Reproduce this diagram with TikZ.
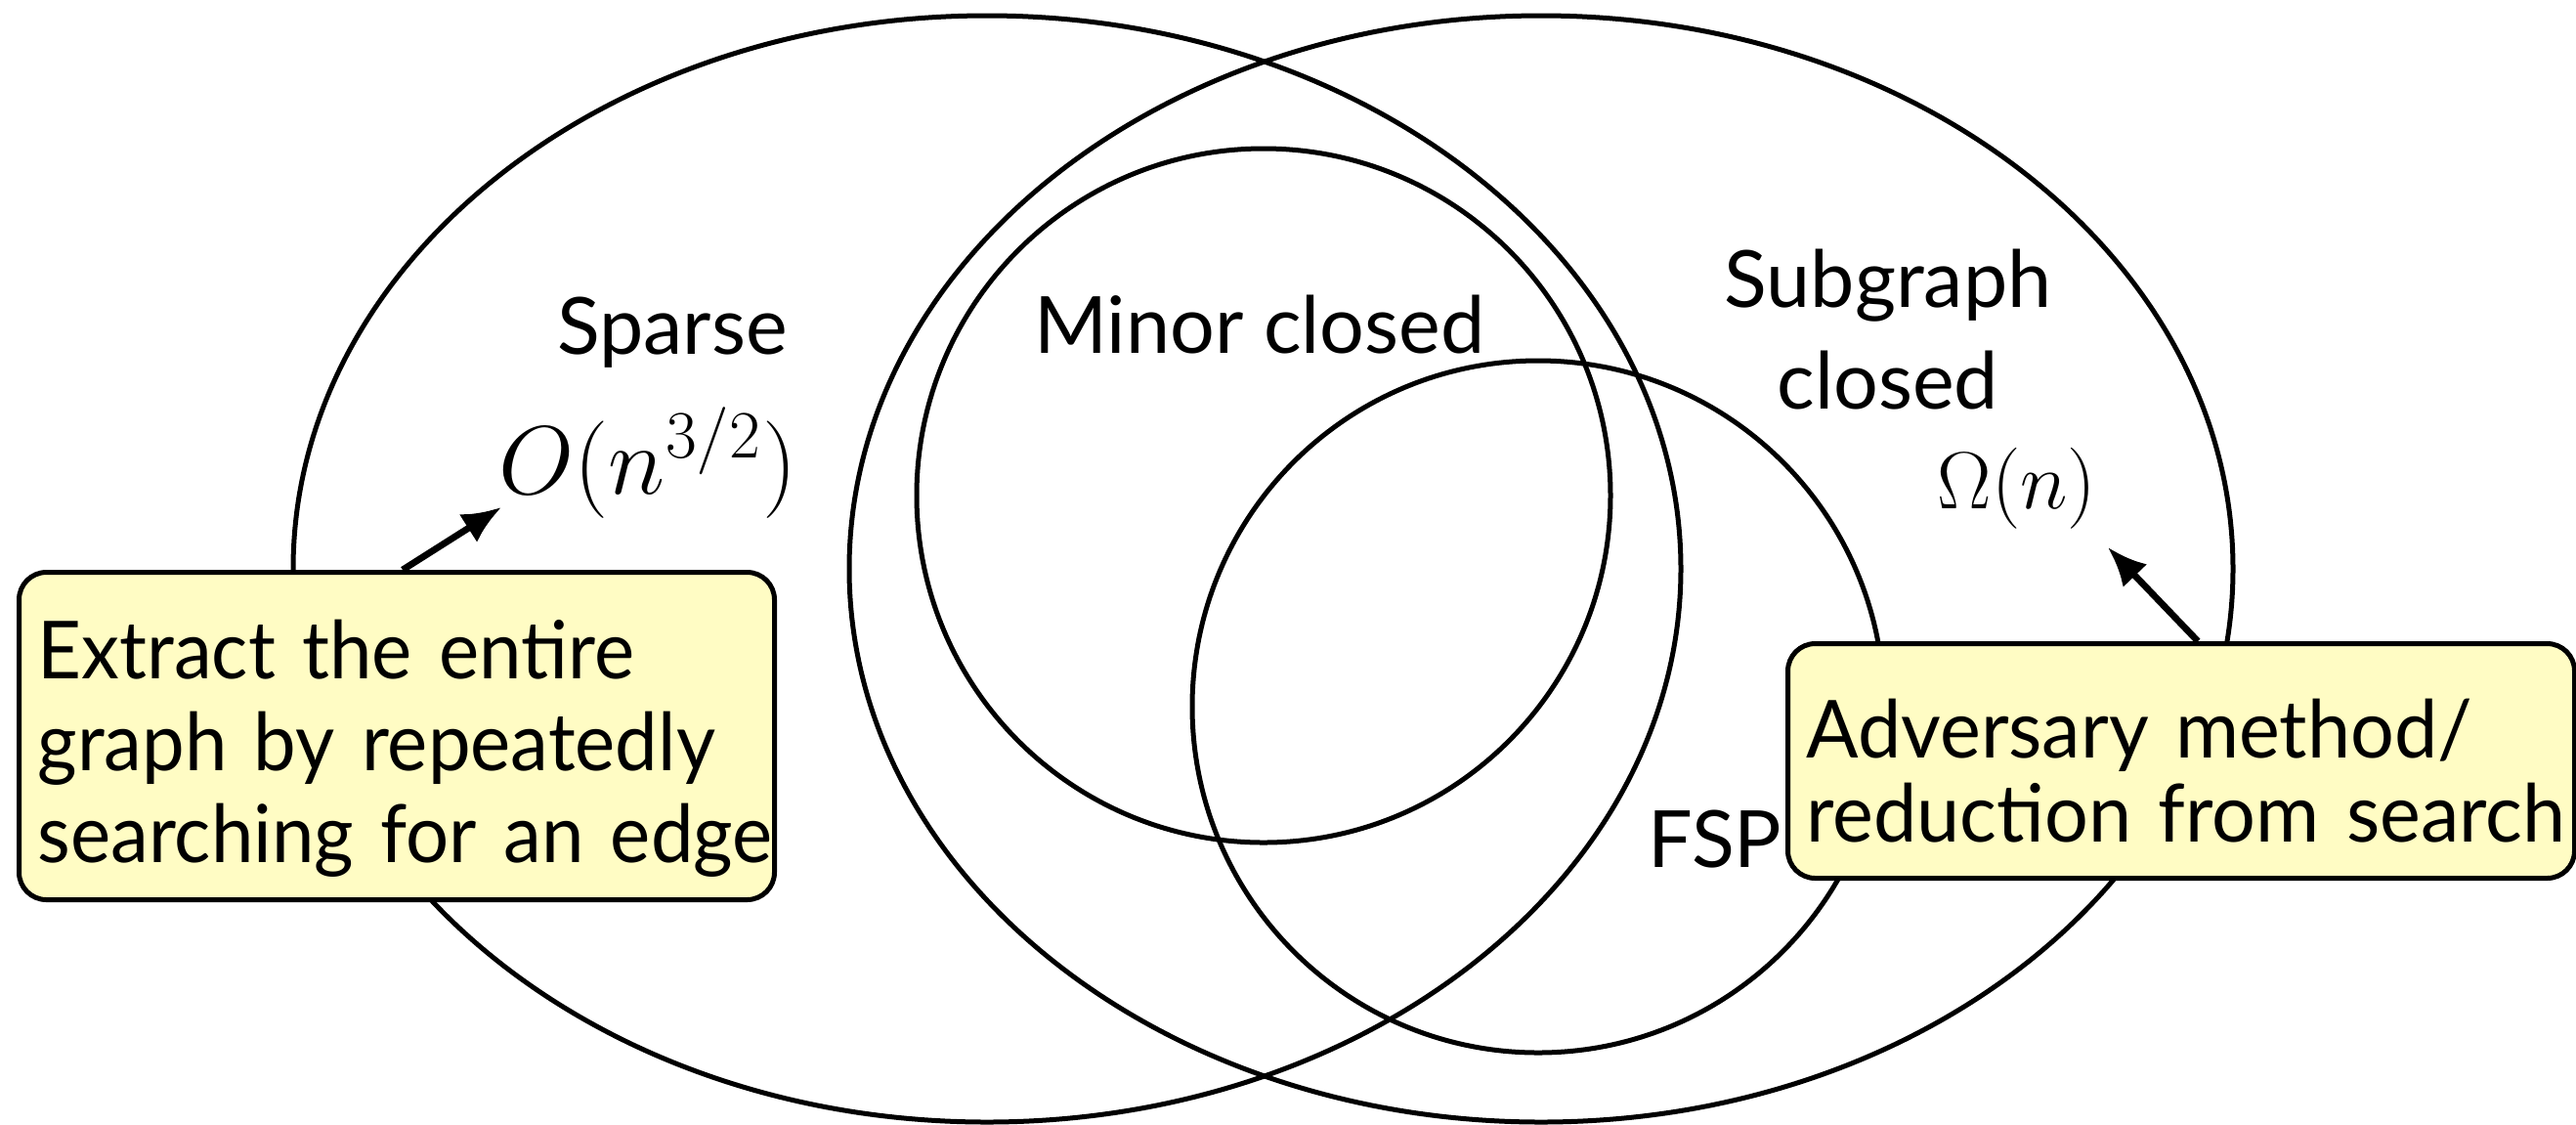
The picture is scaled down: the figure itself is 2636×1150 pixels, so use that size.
\documentclass[tikz,border=0pt]{standalone}
\usepackage[no-math]{fontspec}
\newfontfamily\labelfont{Lato}
\newfontfamily\leftnotefont[FakeStretch=0.95]{Lato}
\newfontfamily\rightnotefont[FakeStretch=0.965]{Lato}
\usetikzlibrary{arrows.meta}
\definecolor{notefill}{RGB}{255,252,196}
\begin{document}
\begin{tikzpicture}[x=0.25pt,y=-0.25pt,
  region/.style={line width=1.25pt},
  setname/.style={font=\labelfont\fontsize{20.2}{26}\selectfont, inner sep=0pt, anchor=base},
  bound/.style={inner sep=0pt, anchor=base},
  note/.style={draw, line width=1.25pt, fill=notefill, rounded corners=7pt,
    anchor=north west, inner xsep=4.75pt, inner ysep=0pt, align=left},
  pointer/.style={-{Latex[length=10pt,width=8.5pt]}, line width=1.7pt}]
\useasboundingbox (0,0) rectangle (2636,1150);

% the two large classes
\draw[region] (1010,582) ellipse [x radius=710, y radius=566];
\draw[region] (1577,582) ellipse [x radius=708, y radius=566];
% minor-closed and FSP
\draw[region] (1293,507) circle [radius=355];
\draw[region] (1574,723) circle [radius=354];

% class names
\node[setname] (sparse) at (688,362) {Sparse};
\node[setname] (minor) at (1289,361) {Minor closed};
\node[setname, align=center] (subgraph) at (1932,418) {Subgraph\\closed};
\node[setname] (fsp) at (1755,887) {FSP};

% query complexity bounds
\node[bound, font=\fontsize{23}{27}\selectfont] (upper) at (663,505) {$O(n^{3/2})$};
\node[bound, font=\fontsize{22}{26}\selectfont] (lower) at (2064,520) {$\Omega(n)$};
\coordinate (upperTip) at (513,519);
\coordinate (lowerTip) at (2157,560);

% explanatory notes
\node[note, minimum width=193.25pt, minimum height=83.75pt, text width=183.75pt,
  font=\leftnotefont\fontsize{20.5}{23.5}\selectfont] (extract) at (17,583)
  {\rule{0pt}{21.5pt}\mbox{Extract the entire}\\\mbox{graph by repeatedly}\\\mbox{searching for an edge}};
\node[note, minimum width=201.25pt, minimum height=60pt, text width=191.75pt,
  font=\rightnotefont\fontsize{20.5}{21.5}\selectfont] (adversary) at (1827,656)
  {\rule{0pt}{20pt}\mbox{Adversary method/}\\\mbox{reduction from search}};

% pointers from the notes to the bounds
\draw[pointer] ([xshift=98.75pt]extract.north west) -- (upperTip);
\draw[pointer] ([xshift=105.5pt]adversary.north west) -- (lowerTip);
\end{tikzpicture}
\end{document}
